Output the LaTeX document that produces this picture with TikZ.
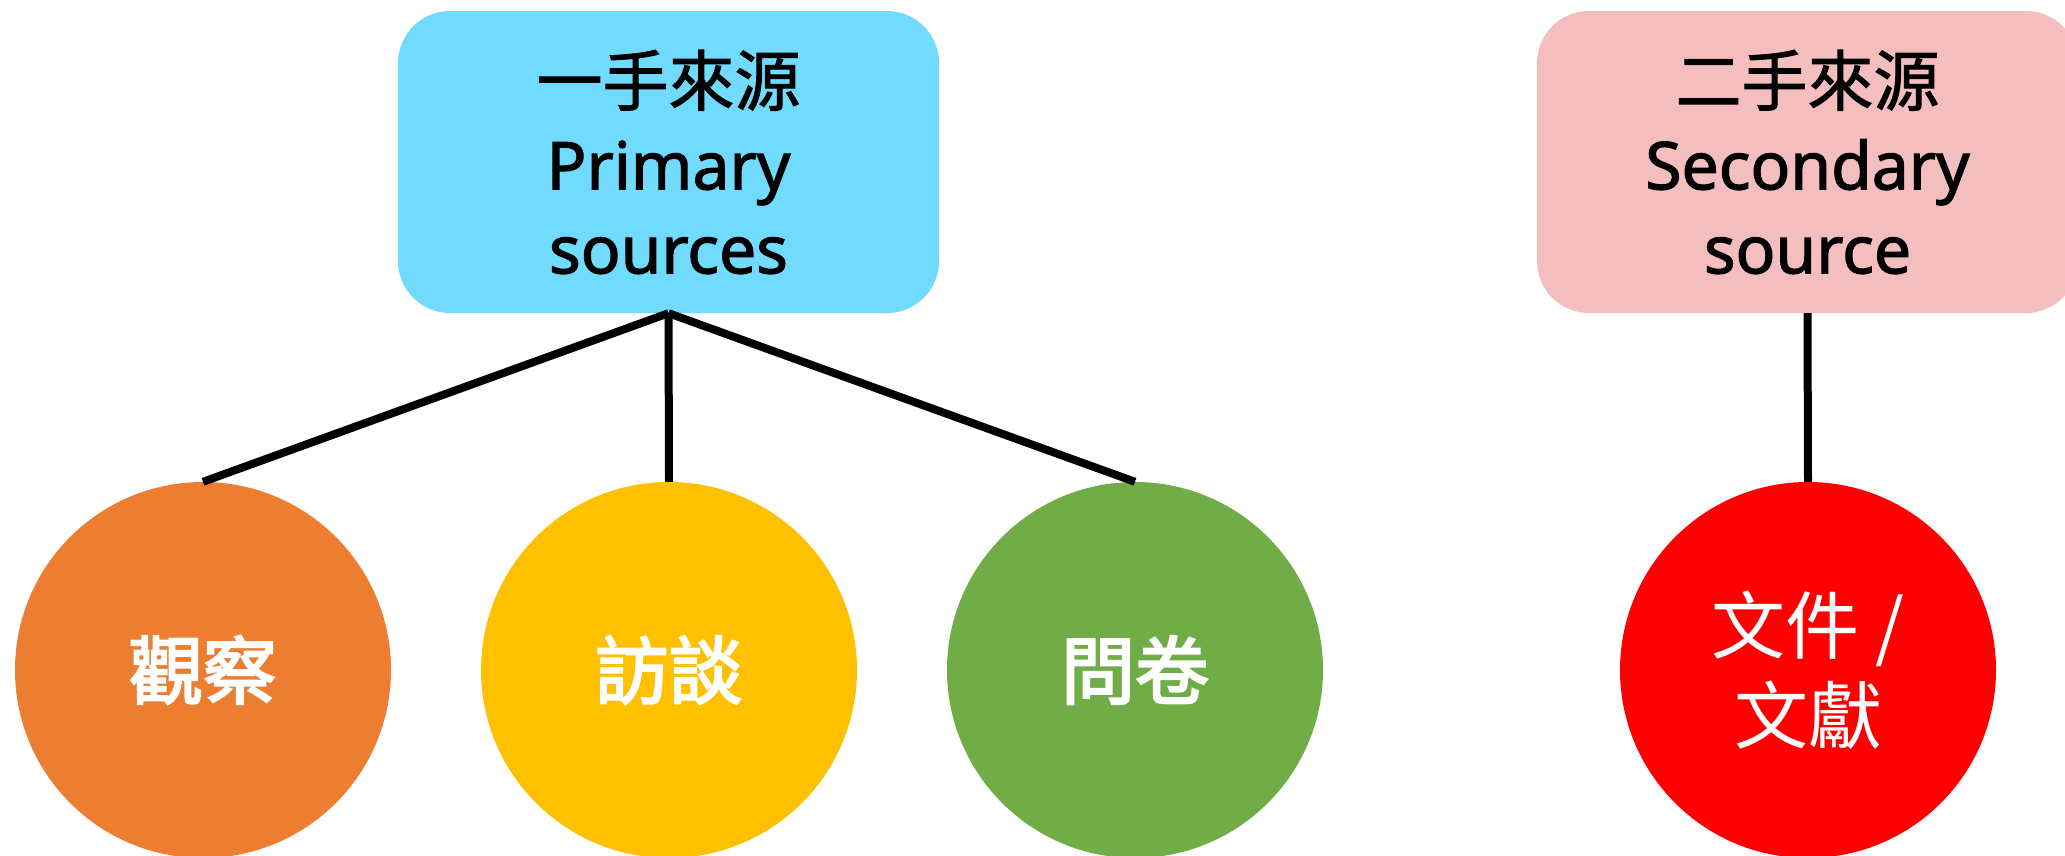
\documentclass[tikz,border=0pt]{standalone}
\usepackage{fontspec}
\setmainfont{Noto Sans}[FakeBold=1.5]
\newfontfamily\boxlat[FakeBold=1.8]{Noto Sans}
\newfontfamily\boxcjk[FakeBold=1.5]{Noto Sans CJK TC}
\newfontfamily\cjk{Noto Sans CJK TC}
\newfontfamily\cjkmed[FakeBold=3]{Noto Sans CJK TC}
\definecolor{pblue}{RGB}{113,218,255}
\definecolor{ppink}{RGB}{244,190,190}
\definecolor{corange}{RGB}{237,125,49}
\definecolor{cyellow}{RGB}{255,192,0}
\definecolor{cgreen}{RGB}{112,173,71}
\definecolor{cred}{RGB}{255,0,0}
\tikzset{
  srcbox/.style={rounded corners=52pt, minimum width=541pt, minimum height=302pt,
    align=center, inner sep=0pt, font=\boxlat\fontsize{66}{84}\selectfont},
  circ/.style={circle, minimum size=376pt, inner sep=0pt, text=white, align=center},
  boldtxt/.style={font=\cjkmed\fontsize{74}{88}\selectfont},
  regtxt/.style={font=\cjk\fontsize{74}{90}\selectfont},
  conn/.style={line width=8pt, black}
}
\begin{document}
\begin{tikzpicture}[x=1pt,y=-1pt]
\useasboundingbox (0,0) rectangle (2065,855);
\clip (0,0) rectangle (2065,855);
\node[srcbox, fill=pblue] (p) at (668.5,162) {{\boxcjk 一手來源}\\Primary\\sources};
\node[srcbox, fill=ppink] (s) at (1807.5,162) {{\boxcjk 二手來源}\\Secondary\\source};
\node[circ, boldtxt, fill=corange] (c1) at (203,670) {觀察};
\node[circ, boldtxt, fill=cyellow] (c2) at (669,670) {訪談};
\node[circ, boldtxt, fill=cgreen] (c3) at (1135,670) {問卷};
\node[circ, regtxt, fill=cred] (c4) at (1808,670) {文件 /\\文獻};
\draw[conn] (p.south) -- (c1.north);
\draw[conn] (p.south) -- (c2.north);
\draw[conn] (p.south) -- (c3.north);
\draw[conn] (s.south) -- (c4.north);
\end{tikzpicture}
\end{document}
